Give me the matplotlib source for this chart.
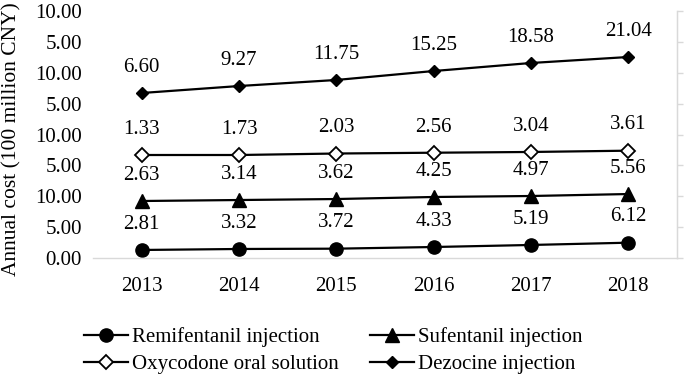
import matplotlib
matplotlib.use("Agg")
import matplotlib.pyplot as plt

plt.rcParams['font.family'] = ['Liberation Serif', 'DejaVu Serif']

years = ['2013', '2014', '2015', '2016', '2017', '2018']

# annotated values (100 million CNY)
remi_labels = [2.81, 3.32, 3.72, 4.33, 5.19, 6.12]
sufe_labels = [2.63, 3.14, 3.62, 4.25, 4.97, 5.56]
oxy_labels = [1.33, 1.73, 2.03, 2.56, 3.04, 3.61]
dez_labels = [6.60, 9.27, 11.75, 15.25, 18.58, 21.04]

# plotted positions read from the stacked (broken) axis, in axis units
remi_plot = [1.30, 1.46, 1.51, 1.78, 2.11, 2.48]
sufe_plot = [9.23, 9.39, 9.55, 9.88, 10.04, 10.36]
oxy_plot = [16.68, 16.68, 16.92, 17.05, 17.17, 17.38]
dez_plot = [26.72, 27.85, 28.83, 30.28, 31.58, 32.55]

ytick_pos = [0, 5, 10, 15, 20, 25, 30, 35, 40]
ytick_labels = ['0.00', '5.00', '10.00', '5.00', '10.00', '5.00', '10.00', '5.00', '10.00']

W, H = 685, 378
fig = plt.figure(figsize=(W / 100, H / 100), dpi=100)
ax = fig.add_axes([93 / W, 1 - 258 / H, (677 - 93) / W, (258 - 11) / H])

x = list(range(len(years)))
fs = 15
series = [
    ('Remifentanil injection', remi_plot, remi_labels, dict(marker='o', ms=9.5, mfc='black')),
    ('Sufentanil injection', sufe_plot, sufe_labels, dict(marker='^', ms=9.5, mfc='black')),
    ('Oxycodone oral solution', oxy_plot, oxy_labels, dict(marker='D', ms=7.5, mfc='white', mew=1.3)),
    ('Dezocine injection', dez_plot, dez_labels, dict(marker='D', ms=6.5, mfc='black')),
]
handles = {}
for name, yv, lab, st in series:
    ln, = ax.plot(x, yv, color='black', lw=1.6, mec='black', label=name, **st)
    handles[name] = ln
    for xi, yi, t in zip(x, yv, lab):
        ax.annotate(f'{t:.2f}', (xi, yi), xytext=(0, 18.5), textcoords='offset points',
                    ha='center', va='center', fontsize=fs)

ax.set_xlim(-0.5, len(years) - 0.5)
ax.set_ylim(0, 40)
ax.set_xticks(x)
ax.set_xticklabels(years, fontsize=fs)
ax.set_yticks(ytick_pos)
ax.set_yticklabels(ytick_labels, fontsize=fs)
ax.tick_params(axis='x', length=0, pad=14)
ax.tick_params(axis='y', length=0, pad=8)

for s in ['left', 'top']:
    ax.spines[s].set_visible(False)
ax.spines['bottom'].set_color('#d9d9d9')
ax.spines['right'].set_color('#d9d9d9')
ax.spines['bottom'].set_linewidth(1.0)
ax.spines['right'].set_linewidth(1.0)

# right axis with ticks, no labels
ax2 = ax.twinx()
ax2.set_ylim(0, 40)
ax2.set_yticks(ytick_pos)
ax2.set_yticklabels([])
ax2.tick_params(axis='y', direction='out', length=4, color='#d9d9d9', width=1.0)
for s in ['left', 'top', 'bottom']:
    ax2.spines[s].set_visible(False)
ax2.spines['right'].set_color('#d9d9d9')

fig.text(12 / W, 1 - 139 / H, 'Annual cost (100 million CNY)', rotation=90,
         ha='center', va='center', fontsize=15.5)

order = ['Remifentanil injection', 'Oxycodone oral solution', 'Sufentanil injection', 'Dezocine injection']
fig.legend([handles[n] for n in order], order, loc='center', ncol=2,
           bbox_to_anchor=(333 / W, 1 - 350.5 / H), frameon=False, fontsize=fs,
           handlelength=2.1, handletextpad=0.2, columnspacing=1.5, labelspacing=0.35,
           borderpad=0, borderaxespad=0)

fig.savefig('out.png', dpi=100)
